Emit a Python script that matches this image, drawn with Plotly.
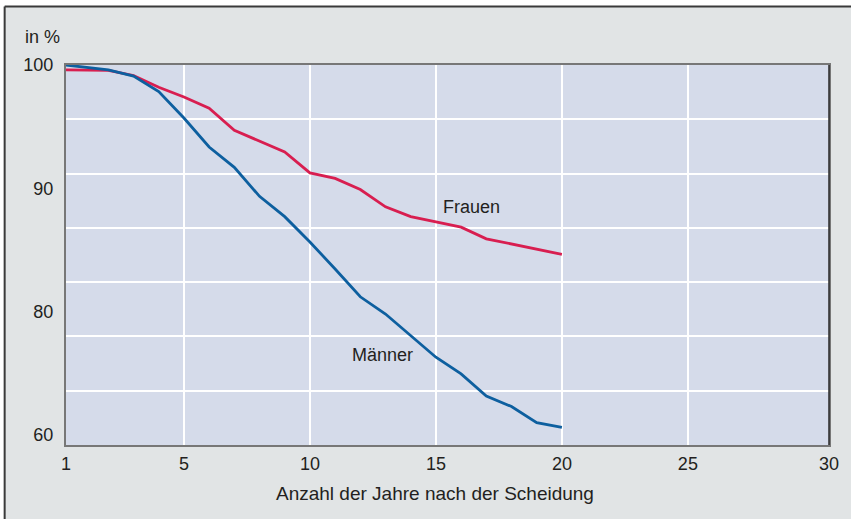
import plotly.graph_objects as go

# ---- data ----
years = list(range(1, 21))
maenner = [100.0, 99.6, 99.1, 97.85, 95.7, 93.35, 91.7, 89.35, 87.7, 85.65,
           83.45, 81.2, 79.8, 78.05, 76.3, 74.95, 73.15, 72.3, 71.0, 70.6]
frauen = [99.6, 99.57, 99.15, 98.2, 97.4, 96.5, 94.7, 93.85, 92.95, 91.25,
          90.8, 89.9, 88.5, 87.7, 87.3, 86.85, 85.9, 85.5, 85.05, 84.65]

x_tick_labels = ["1", "5", "10", "15", "20", "25", "30"]
y_tick_values = [100, 90, 80, 70]
y_tick_labels = ["100", "90", "80", "60"]
x_title = "Anzahl der Jahre nach der Scheidung"

# axis extents (the reference puts year "1" at the axis origin and "30" at the far edge)
X_START, X_END = 0.32, 30.6
Y_MIN, Y_MAX = 69.18, 100
x_tick_values = [X_START, 5, 10, 15, 20, 25, X_END]
x_plot = [X_START] + years[1:]

RED = "#d81e50"
BLUE = "#0d5f9f"
TXT = "#231f20"
PANEL = "#e1e4e5"
FONT = "Liberation Sans, Arial, sans-serif"

fig = go.Figure()
# empty trace so that the (grid-only) primary y axis is rendered
fig.add_trace(go.Scatter(x=[None], y=[None], yaxis="y", mode="lines",
                         showlegend=False, hoverinfo="skip"))
fig.add_trace(go.Scatter(x=x_plot, y=frauen, mode="lines", name="Frauen",
                         line=dict(color=RED, width=2.8), yaxis="y2",
                         hoverinfo="skip"))
fig.add_trace(go.Scatter(x=x_plot, y=maenner, mode="lines", name="Männer",
                         line=dict(color=BLUE, width=2.8), yaxis="y2",
                         hoverinfo="skip"))

fig.add_annotation(x=15.2, y=88.47, xref="x", yref="y2", text="Frauen",
                   showarrow=False, xanchor="left", yanchor="middle",
                   font=dict(size=18, color=TXT, family=FONT))
fig.add_annotation(x=11.6, y=76.45, xref="x", yref="y2", text="Männer",
                   showarrow=False, xanchor="left", yanchor="middle",
                   font=dict(size=18, color=TXT, family=FONT))
fig.add_annotation(x=-0.056, y=1.075, xref="paper", yref="paper", text="in %",
                   showarrow=False, xanchor="left", yanchor="middle",
                   font=dict(size=18, color=TXT, family=FONT))
fig.add_annotation(x=0.4837, y=-0.128, xref="paper", yref="paper", text=x_title,
                   showarrow=False, xanchor="center", yanchor="middle",
                   font=dict(size=19, color=TXT, family=FONT))

# white strips outside the framed panel, and the dark frame lines
BX, BY = -0.0804, 1.1539
fig.add_shape(type="rect", xref="paper", yref="paper", x0=-0.2, x1=1.2,
              y0=BY, y1=1.3, fillcolor="white", line=dict(width=0), layer="below")
fig.add_shape(type="rect", xref="paper", yref="paper", x0=-0.2, x1=BX,
              y0=-0.3, y1=1.3, fillcolor="white", line=dict(width=0), layer="below")
fig.add_shape(type="line", xref="paper", yref="paper", x0=BX, x1=1.2,
              y0=BY, y1=BY, line=dict(color="#3a3a3a", width=2), layer="below")
fig.add_shape(type="line", xref="paper", yref="paper", x0=BX, x1=BX,
              y0=-0.3, y1=BY, line=dict(color="#3a3a3a", width=2), layer="below")
# darker right edge of the plot frame
fig.add_shape(type="line", xref="paper", yref="paper", x0=1, x1=1,
              y0=0, y1=1, line=dict(color="#2a2a2a", width=1.5), layer="above")

fig.update_layout(
    width=851, height=519,
    margin=dict(l=66, r=20, t=65, b=74),
    paper_bgcolor=PANEL,
    plot_bgcolor="#d5dbea",
    showlegend=False,
    font=dict(family=FONT, color=TXT, size=18),
    xaxis=dict(range=[X_START, X_END], tickmode="array",
               tickvals=x_tick_values, ticktext=x_tick_labels,
               showgrid=True, gridcolor="white", gridwidth=1.6,
               zeroline=False, showline=True, mirror=True,
               linecolor="#777777", linewidth=2,
               ticks="outside", ticklen=1, tickcolor="rgba(0,0,0,0)",
               tickfont=dict(size=18, color=TXT)),
    yaxis=dict(range=[0, 7], dtick=1, tick0=0, showgrid=True,
               gridcolor="white", gridwidth=1.6, showticklabels=False,
               zeroline=False, showline=True, mirror=True,
               linecolor="#777777", linewidth=2, ticks=""),
    yaxis2=dict(range=[Y_MIN, Y_MAX], overlaying="y", side="left",
                tickmode="array", tickvals=y_tick_values,
                ticktext=y_tick_labels, showgrid=False, zeroline=False,
                showline=False, ticks="outside", ticklen=8,
                tickcolor="rgba(0,0,0,0)",
                tickfont=dict(size=18, color=TXT)),
)

fig.write_html("out.html", config={"displayModeBar": False},
               post_script="document.body.style.margin='0px';")
